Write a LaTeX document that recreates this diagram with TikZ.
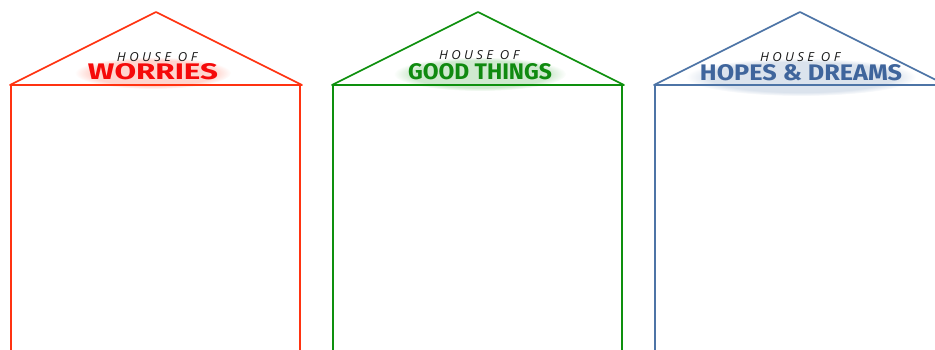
\documentclass[tikz,border=0pt]{standalone}
\usepackage{fontspec}
\setmainfont{Open Sans}
\newfontfamily\titlefont{Fira Sans}
\usepackage{graphicx}
\usetikzlibrary{fadings}
\definecolor{hred}{HTML}{FF3311}
\definecolor{hredtxt}{HTML}{F50A0A}
\definecolor{hgreen}{HTML}{0E900E}
\definecolor{hgreentxt}{HTML}{108A10}
\definecolor{hblue}{HTML}{4D74A6}
\definecolor{hbluetxt}{HTML}{3F659C}
\tikzset{
  housewall/.style={line width=1.6pt, line cap=round, line join=round},
  smalltxt/.style={inner sep=0pt, font=\itshape\fontsize{11}{11}\selectfont, text=black!90},
  glow/.style={path fading=circle with fuzzy edge 20 percent, opacity=0.2},
}
\newcommand{\bigtitle}[3]{\resizebox{#1pt}{#2pt}{\titlefont\bfseries #3}}
\begin{document}
\begin{tikzpicture}[x=1pt,y=-1pt]
\useasboundingbox (0,0) rectangle (935,349);
% ---------- House 1
\coordinate (a1) at (156,12);
\coordinate (l1) at (10,85);
\coordinate (r1) at (302,85);
\coordinate (wl1) at (11,85);
\coordinate (wr1) at (300,85);
\coordinate (bl1) at (11,352);
\coordinate (br1) at (300,352);
\fill[glow, hred] (153,73) ellipse [x radius=78, y radius=16];
\draw[housewall, hred] (l1) -- (a1) -- (r1) -- (l1);
\draw[housewall, hred] (wl1) -- (bl1);
\draw[housewall, hred] (wr1) -- (br1);
\node[smalltxt] (s1) at (157,57) {\resizebox{80pt}{9pt}{H O U S E\ \ O F}};
\node[inner sep=0pt, text=hredtxt] (t1) at (153,72) {\bigtitle{130}{16}{WORRIES}};
% ---------- House 2
\coordinate (a2) at (478,12);
\coordinate (l2) at (332,85);
\coordinate (r2) at (624,85);
\coordinate (wl2) at (333,85);
\coordinate (wr2) at (622,85);
\coordinate (bl2) at (333,352);
\coordinate (br2) at (622,352);
\fill[glow, hgreen] (480,74) ellipse [x radius=86, y radius=17];
\draw[housewall, hgreen] (l2) -- (a2) -- (r2) -- (l2);
\draw[housewall, hgreen] (wl2) -- (bl2);
\draw[housewall, hgreen] (wr2) -- (br2);
\node[smalltxt] (s2) at (479,55) {\resizebox{80pt}{9pt}{H O U S E\ \ O F}};
\node[inner sep=0pt, text=hgreentxt] (t2) at (480,72) {\bigtitle{144}{16}{GOOD THINGS}};
% ---------- House 3
\coordinate (a3) at (800,12);
\coordinate (l3) at (654,85);
\coordinate (r3) at (946,85);
\coordinate (wl3) at (655,85);
\coordinate (bl3) at (655,352);
\fill[glow, hblue] (801,77) ellipse [x radius=115, y radius=19];
\draw[housewall, hblue] (l3) -- (a3) -- (r3) -- (l3);
\draw[housewall, hblue] (wl3) -- (bl3);
\node[smalltxt] (s3) at (800,57) {\resizebox{80pt}{9pt}{H O U S E\ \ O F}};
\node[inner sep=0pt, text=hbluetxt] (t3) at (801,73) {\bigtitle{202}{16}{HOPES \& DREAMS}};
\end{tikzpicture}
\end{document}
